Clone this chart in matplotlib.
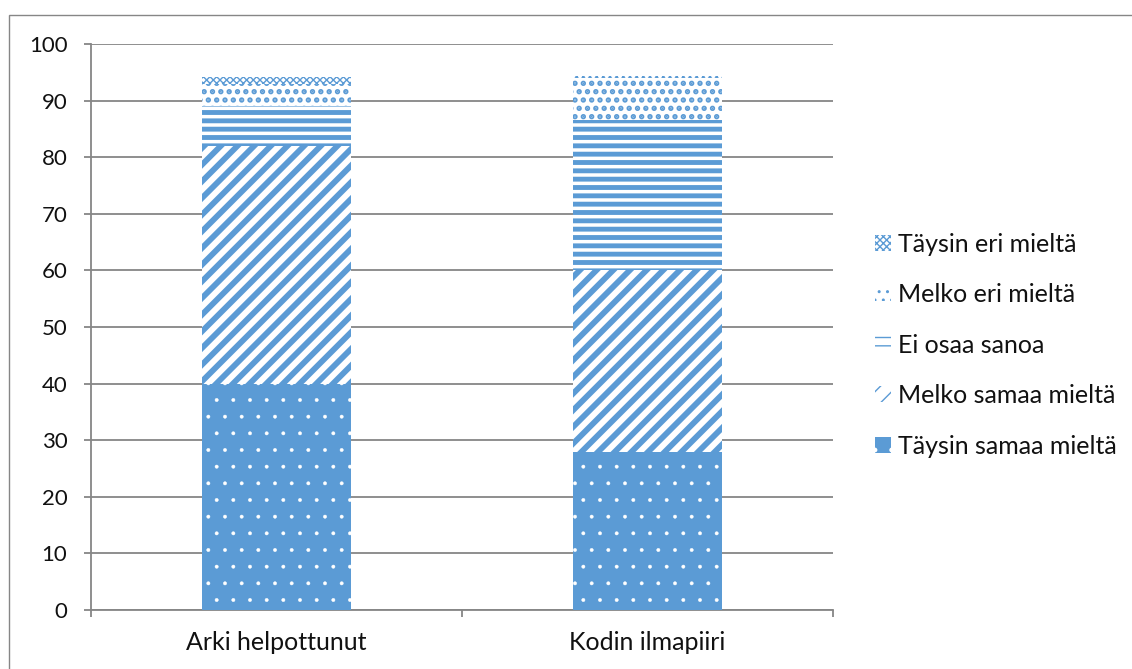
import matplotlib
matplotlib.use("Agg")
import matplotlib.pyplot as plt
from matplotlib.patches import Rectangle, Patch

plt.rcParams['font.family'] = ['Lato', 'DejaVu Sans']

categories = ["Arki helpottunut", "Kodin ilmapiiri"]
series_names = ["Täysin samaa mieltä", "Melko samaa mieltä", "Ei osaa sanoa",
                "Melko eri mieltä", "Täysin eri mieltä"]
taysin_samaa = [40, 28]
melko_samaa = [42, 32]
ei_osaa = [7, 26.5]
melko_eri = [4, 7.5]
taysin_eri = [1.2, 0.3]
series_values = [taysin_samaa, melko_samaa, ei_osaa, melko_eri, taysin_eri]
y_ticks = list(range(0, 101, 10))

BLUE = "#5B9BD5"
GRAY = "#868686"

# (facecolor, hatchcolor, hatch, hatch linewidth)
styles = [
    (BLUE, "white", ".", 0.3),
    ("white", BLUE, "//", 4.2),
    ("white", BLUE, "--", 3.5),
    ("white", BLUE, "..", 2.6),
    ("white", BLUE, "xxxxx", 1.0),
]

fig = plt.figure(figsize=(11.32, 6.69), dpi=100)
fig.patches.append(Rectangle((9/1132, 0.0 - 0.01), 1.05, 1 - 15/669 + 0.01,
                             transform=fig.transFigure, fill=False,
                             edgecolor=GRAY, linewidth=1.0, zorder=0))
ax = fig.add_axes([91/1132, 1 - 610/669, (833 - 91)/1132, (610 - 44)/669])

x = list(range(len(categories)))
bottoms = [0.0] * len(categories)
handles = []
for name, vals, (fc, hc, h, lw) in zip(series_names, series_values, styles):
    with plt.rc_context({'hatch.linewidth': lw, 'hatch.color': hc}):
        bars = ax.bar(x, vals, width=0.4, bottom=bottoms, color=fc,
                      edgecolor=hc, hatch=h, linewidth=0, zorder=3)
        for b in bars:
            if hasattr(b, "set_hatch_linewidth"):
                b.set_hatch_linewidth(lw)
        hp = Patch(facecolor=fc, edgecolor=hc, hatch=h, linewidth=0)
        if hasattr(hp, "set_hatch_linewidth"):
            hp.set_hatch_linewidth(lw)
    handles.append(hp)
    bottoms = [b + v for b, v in zip(bottoms, vals)]

ax.set_xlim(-0.5, 1.5)
ax.set_ylim(0, 100)
ax.set_yticks(y_ticks)
ax.set_yticklabels([str(t) for t in y_ticks], fontsize=16, color="#111111")
ax.set_xticks(x)
ax.set_xticklabels(categories, fontsize=18, color="#111111")
ax.set_xticks([-0.5, 0.5, 1.5], minor=True)
ax.tick_params(axis='x', which='major', length=0, pad=15)
ax.tick_params(axis='x', which='minor', length=5, color=GRAY, width=1.3)
ax.tick_params(axis='y', length=5, color=GRAY, width=1.3, pad=12)
ax.grid(axis='y', color=GRAY, linewidth=1.3, zorder=0)
ax.set_axisbelow(True)
for s in ['top', 'right']:
    ax.spines[s].set_visible(False)
for s in ['left', 'bottom']:
    ax.spines[s].set_color(GRAY)
    ax.spines[s].set_linewidth(1.3)

leg = fig.legend(handles[::-1], series_names[::-1], loc='center left',
                 bbox_to_anchor=(875/1132, 1 - 345/669), frameon=False,
                 fontsize=18, handlelength=0.62, handleheight=0.62,
                 handletextpad=0.28, labelspacing=1.1, borderaxespad=0,
                 borderpad=0)
for t in leg.get_texts():
    t.set_color("#111111")

fig.savefig("out.png", dpi=100)
